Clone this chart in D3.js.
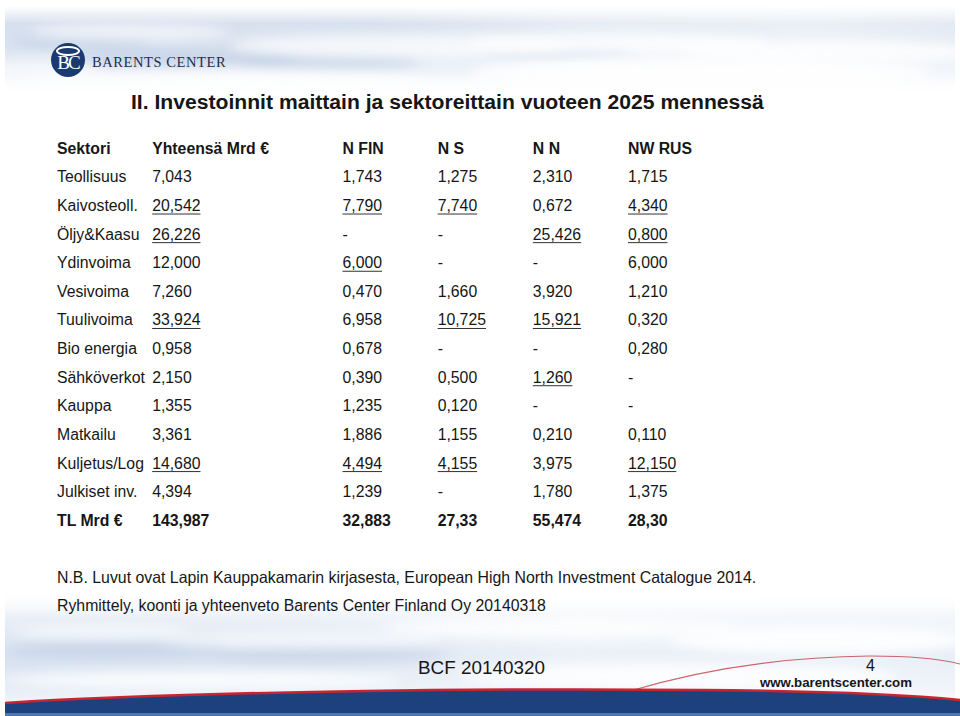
<!DOCTYPE html>
<html>
<head>
<meta charset="utf-8">
<script src="https://cdn.jsdelivr.net/npm/d3@7"></script>
<style>
  html, body { margin: 0; padding: 0; background: #ffffff; }
  svg { display: block; }
</style>
</head>
<body>
<svg id="chart" width="960" height="716"></svg>
<script>
// ---------------- DATA ----------------
const title = "II. Investoinnit maittain ja sektoreittain vuoteen 2025 mennessä";
const columns = ["Sektori", "Yhteensä Mrd €", "N FIN", "N S", "N N", "NW RUS"];
const sectors = ["Teollisuus", "Kaivosteoll.", "Öljy&Kaasu", "Ydinvoima", "Vesivoima", "Tuulivoima",
  "Bio energia", "Sähköverkot", "Kauppa", "Matkailu", "Kuljetus/Log", "Julkiset inv."];
const totalLabel = "TL Mrd €";
const totals = ["7,043", "20,542", "26,226", "12,000", "7,260", "33,924", "0,958", "2,150", "1,355", "3,361", "14,680", "4,394"];
const nFin   = ["1,743", "7,790", "-", "6,000", "0,470", "6,958", "0,678", "0,390", "1,235", "1,886", "4,494", "1,239"];
const nS     = ["1,275", "7,740", "-", "-", "1,660", "10,725", "-", "0,500", "0,120", "1,155", "4,155", "-"];
const nN     = ["2,310", "0,672", "25,426", "-", "3,920", "15,921", "-", "1,260", "-", "0,210", "3,975", "1,780"];
const nwRus  = ["1,715", "4,340", "0,800", "6,000", "1,210", "0,320", "0,280", "-", "-", "0,110", "12,150", "1,375"];
const totalRow = ["143,987", "32,883", "27,33", "55,474", "28,30"];
// underlined cells: [sector, column]
const underlined = [
  ["Kaivosteoll.", "Yhteensä Mrd €"], ["Kaivosteoll.", "N FIN"], ["Kaivosteoll.", "N S"], ["Kaivosteoll.", "NW RUS"],
  ["Öljy&Kaasu", "Yhteensä Mrd €"], ["Öljy&Kaasu", "N N"], ["Öljy&Kaasu", "NW RUS"],
  ["Ydinvoima", "N FIN"],
  ["Tuulivoima", "Yhteensä Mrd €"], ["Tuulivoima", "N S"], ["Tuulivoima", "N N"],
  ["Sähköverkot", "N N"],
  ["Kuljetus/Log", "Yhteensä Mrd €"], ["Kuljetus/Log", "N FIN"], ["Kuljetus/Log", "N S"], ["Kuljetus/Log", "NW RUS"]
];
const noteLines = [
  "N.B. Luvut ovat Lapin Kauppakamarin kirjasesta, European High North Investment  Catalogue 2014.",
  "Ryhmittely, koonti ja yhteenveto Barents Center Finland Oy 20140318"
];
const brand = "BARENTS CENTER";
const logoText = "BC";
const footerCode = "BCF 20140320";
const pageNumber = "4";
const website = "www.barentscenter.com";

// ---------------- DRAW ----------------
const svg = d3.select("#chart");
const FONT = "'Liberation Sans', Arial, Helvetica, sans-serif";
const SERIF = "'Liberation Serif', 'DejaVu Serif', serif";
const INK = "#161616";

const defs = svg.append("defs");
const blur = defs.append("filter").attr("id", "blur").attr("x", "-50%").attr("y", "-50%").attr("width", "200%").attr("height", "200%");
blur.append("feGaussianBlur").attr("stdDeviation", 6);

function grad(id, vertical, stops) {
  const g = defs.append("linearGradient").attr("id", id)
    .attr("x1", 0).attr("y1", 0).attr("x2", vertical ? 0 : 1).attr("y2", vertical ? 1 : 0);
  stops.forEach(([o, c, a]) => g.append("stop").attr("offset", o).attr("stop-color", c).attr("stop-opacity", a == null ? 1 : a));
}

// header cloud background
grad("hg", true, [[0, "#ffffff"], [0.08, "#eef2f8"], [0.2, "#d2dcec"], [0.45, "#d6e0ee"], [0.7, "#e6ecf5"], [0.9, "#f8fafd"], [1, "#ffffff"]]);
grad("hx", false, [[0, "#ffffff", 0.1], [0.4, "#ffffff", 0.15], [0.6, "#ffffff", 0.45], [0.85, "#ffffff", 0.55], [1, "#ffffff", 0.4]]);

const header = svg.append("g");
header.append("rect").attr("x", 5).attr("y", 6).attr("width", 950).attr("height", 88).attr("fill", "url(#hg)");
header.append("rect").attr("x", 5).attr("y", 6).attr("width", 950).attr("height", 88).attr("fill", "url(#hx)");
const hDark = [[180, 58, 120, 10], [330, 62, 90, 8], [80, 42, 70, 6], [560, 50, 80, 6]];
header.selectAll("ellipse.d").data(hDark).join("ellipse").attr("class", "d")
  .attr("cx", d => d[0]).attr("cy", d => d[1]).attr("rx", d => d[2]).attr("ry", d => d[3])
  .attr("fill", "#bccbe2").attr("opacity", 0.6).attr("filter", "url(#blur)");
const hClouds = [
  [130, 32, 100, 8, 0.6], [400, 46, 170, 12, 0.7], [620, 44, 150, 10, 0.85], [830, 52, 150, 12, 0.85],
  [230, 80, 200, 10, 0.7], [700, 74, 230, 16, 0.9], [40, 70, 60, 10, 0.5]
];
header.selectAll("ellipse.c").data(hClouds).join("ellipse").attr("class", "c")
  .attr("cx", d => d[0]).attr("cy", d => d[1]).attr("rx", d => d[2]).attr("ry", d => d[3])
  .attr("fill", "#ffffff").attr("opacity", d => d[4]).attr("filter", "url(#blur)");
grad("hfade", true, [[0, "#ffffff", 0], [1, "#ffffff", 1]]);
header.append("rect").attr("x", 0).attr("y", 74).attr("width", 960).attr("height", 24).attr("fill", "url(#hfade)");

// logo
const logo = svg.append("g").attr("transform", "translate(68,60)");
logo.append("circle").attr("r", 17).attr("fill", "#1b3b70");
logo.append("ellipse").attr("cx", 0).attr("cy", -9).attr("rx", 11).attr("ry", 4)
  .attr("fill", "none").attr("stroke", "#ffffff").attr("stroke-width", 2);
logo.append("text").attr("x", 0).attr("y", 9).attr("text-anchor", "middle")
  .attr("font-family", SERIF).attr("font-size", 19).attr("fill", "#ffffff").attr("letter-spacing", -2)
  .text(logoText);

function fitWidth(sel, target) {
  const node = sel.node();
  const w = node.getComputedTextLength();
  const fs = parseFloat(sel.attr("font-size"));
  if (w > 0) sel.attr("font-size", fs * target / w);
  return sel;
}

fitWidth(svg.append("text").attr("x", 92).attr("y", 67)
  .attr("font-family", SERIF).attr("font-size", 15).attr("fill", "#1d2d50").attr("letter-spacing", 0.6)
  .text(brand), 134);

// title
fitWidth(svg.append("text").attr("x", 131).attr("y", 109)
  .attr("font-family", FONT).attr("font-weight", "bold").attr("font-size", 20).attr("fill", INK)
  .text(title), 633);

// footer background
grad("fg", true, [[0, "#ffffff"], [0.25, "#e8eef7"], [0.55, "#d5e0ef"], [0.85, "#e4ebf5"], [1, "#f3f6fb"]]);
grad("fx", false, [[0, "#ffffff", 0], [0.35, "#ffffff", 0.2], [0.6, "#ffffff", 0.55], [1, "#ffffff", 0.45]]);
const footer = svg.append("g");
footer.append("rect").attr("x", 5).attr("y", 592).attr("width", 950).attr("height", 112).attr("fill", "url(#fg)");
footer.append("rect").attr("x", 5).attr("y", 592).attr("width", 950).attr("height", 112).attr("fill", "url(#fx)");
const fDark = [[120, 650, 110, 8], [330, 655, 120, 8]];
footer.selectAll("ellipse.d").data(fDark).join("ellipse").attr("class", "d")
  .attr("cx", d => d[0]).attr("cy", d => d[1]).attr("rx", d => d[2]).attr("ry", d => d[3])
  .attr("fill", "#bfcde4").attr("opacity", 0.55).attr("filter", "url(#blur)");
const fClouds = [
  [100, 632, 90, 6, 0.7], [300, 640, 140, 7, 0.6], [560, 628, 180, 10, 0.8], [820, 640, 150, 14, 0.9],
  [200, 680, 200, 8, 0.85], [680, 676, 220, 12, 0.85]
];
footer.selectAll("ellipse.c").data(fClouds).join("ellipse").attr("class", "c")
  .attr("cx", d => d[0]).attr("cy", d => d[1]).attr("rx", d => d[2]).attr("ry", d => d[3])
  .attr("fill", "#ffffff").attr("opacity", d => d[4]).attr("filter", "url(#blur)");
grad("ffade", true, [[0, "#ffffff", 1], [1, "#ffffff", 0]]);
footer.append("rect").attr("x", 0).attr("y", 590).attr("width", 960).attr("height", 26).attr("fill", "url(#ffade)");

// thin red arc on the right
footer.append("path")
  .attr("d", "M630,691 C700,670 780,657 870,656 C910,656 940,659 960,664")
  .attr("fill", "none").attr("stroke", "#c44a55").attr("stroke-width", 1.2).attr("opacity", 0.85);
// blue band with red edge
footer.append("path")
  .attr("d", "M5,703 C200,691 500,688 700,690 C820,691 900,694 960,700 L960,716 L5,716 Z")
  .attr("fill", "#1c417d");
footer.append("path")
  .attr("d", "M5,703 C200,691 500,688 700,690 C820,691 900,694 960,700")
  .attr("fill", "none").attr("stroke", "#c8262f").attr("stroke-width", 2.5);
footer.append("rect").attr("x", 5).attr("y", 713).attr("width", 955).attr("height", 3).attr("fill", "#4f78b0");

// ---------------- TABLE ----------------
const rowKeys = ["__header"].concat(sectors, ["__total"]);
const y = d3.scalePoint().domain(rowKeys).range([148, 520]);
const slot = { "Sektori": 0, "Yhteensä Mrd €": 1, "N FIN": 3, "N S": 4, "N N": 5, "NW RUS": 6 };
const x = d3.scaleLinear().domain([0, 6]).range([57, 628]);
const colX = c => x(slot[c]);

const series = [sectors, totals, nFin, nS, nN, nwRus];
const cells = [];
columns.forEach((c) => cells.push({ row: "__header", col: c, text: c, bold: true }));
sectors.forEach((s, i) => {
  columns.forEach((c, j) => cells.push({ row: s, col: c, text: series[j][i], bold: false }));
});
columns.forEach((c, j) => cells.push({ row: "__total", col: c, text: j === 0 ? totalLabel : totalRow[j - 1], bold: true }));

const ul = new Set(underlined.map(d => d[0] + "|" + d[1]));
const table = svg.append("g").attr("font-family", FONT).attr("font-size", 15.8).attr("fill", INK);
const tcells = table.selectAll("text.cell").data(cells).join("text")
  .attr("class", "cell")
  .attr("x", d => colX(d.col))
  .attr("y", d => y(d.row) + 5.8)
  .attr("font-weight", d => d.bold ? "bold" : "normal")
  .text(d => d.text);

tcells.each(function (d) {
  if (!ul.has(d.row + "|" + d.col)) return;
  const w = this.getComputedTextLength();
  table.append("line")
    .attr("x1", colX(d.col)).attr("x2", colX(d.col) + w)
    .attr("y1", y(d.row) + 8.8).attr("y2", y(d.row) + 8.8)
    .attr("stroke", "#333").attr("stroke-width", 1);
});

// notes
const noteTargets = [700, 489];
svg.selectAll("text.note").data(noteLines).join("text")
  .attr("class", "note")
  .attr("x", 57).attr("y", (d, i) => 583 + i * 28)
  .attr("font-family", FONT).attr("font-size", 15).attr("fill", INK)
  .text(d => d)
  .each(function (d, i) { fitWidth(d3.select(this), noteTargets[i]); });

// footer texts
fitWidth(svg.append("text").attr("x", 418).attr("y", 674)
  .attr("font-family", FONT).attr("font-size", 17).attr("fill", INK).text(footerCode), 127);
svg.append("text").attr("x", 866).attr("y", 671)
  .attr("font-family", FONT).attr("font-size", 16).attr("fill", INK).text(pageNumber);
fitWidth(svg.append("text").attr("x", 760).attr("y", 687)
  .attr("font-family", FONT).attr("font-weight", "bold").attr("font-size", 13).attr("fill", INK).text(website), 152);
</script>
</body>
</html>
